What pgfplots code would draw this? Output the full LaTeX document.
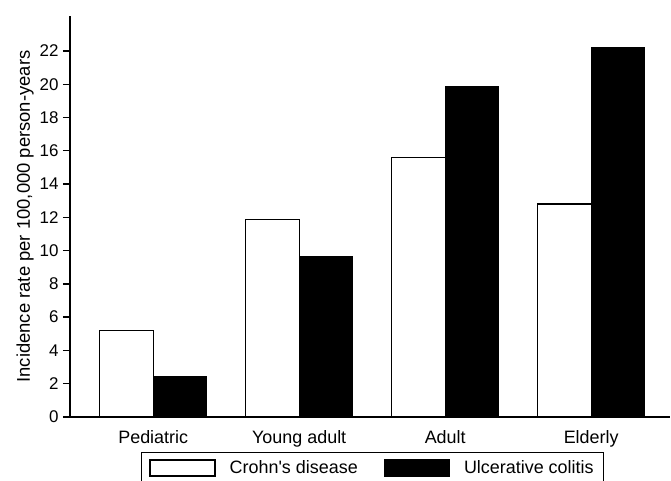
\documentclass[border=0pt]{standalone}
\usepackage{fontspec}
\setmainfont{Liberation Sans}
\usepackage{pgfplots}
\pgfplotsset{compat=1.18}
\begin{document}
\begin{tikzpicture}
\begin{axis}[
  at={(70bp,64bp)}, anchor=south west,
  scale only axis, width=600bp, height=401bp,
  xmin=-0.57, xmax=3.54, ymin=0, ymax=24.1,
  axis x line=bottom, axis y line=left,
  axis line style={-, line width=1.6bp, black},
  ytick={0,2,...,22},
  xtick={0,1,2,3},
  xticklabels={Pediatric,Young adult,Adult,Elderly},
  x tick style={draw=none},
  y tick style={line width=1.4bp, black},
  tick align=outside, major tick length=7bp,
  ybar=0pt, bar width=53.5bp,
  ylabel={Incidence rate per 100,000 person-years},
  ylabel style={font=\fontsize{18.5}{21}\selectfont, yshift=-1bp},
  yticklabel style={font=\fontsize{17}{20}\selectfont, xshift=-1bp},
  xticklabel style={font=\fontsize{18}{21}\selectfont, yshift=-3bp},
  /pgf/number format/assume math mode=true,
  legend image code/.code={\draw[#1] (0bp,-8bp) rectangle (65bp,8bp);},
  legend style={at={(0.118,-0.0873)}, anchor=north west, legend columns=2,
    draw=black, line width=1.3bp, inner xsep=8bp, inner ysep=6bp,
    font=\fontsize{18}{21}\selectfont,
    /tikz/every odd column/.append style={column sep=12bp},
    /tikz/every even column/.append style={column sep=24bp}},
]
\addplot[draw=black, fill=white, line width=1.3bp] coordinates {(0,5.2) (1,11.85) (2,15.6) (3,12.8)};
\addplot[draw=black, fill=black, line width=1.3bp] coordinates {(0,2.45) (1,9.65) (2,19.85) (3,22.2)};
\legend{Crohn\textquotesingle s disease, Ulcerative colitis}
\end{axis}
\pgfresetboundingbox
\path (0,0) rectangle (671bp,481bp);
\end{tikzpicture}
\end{document}
